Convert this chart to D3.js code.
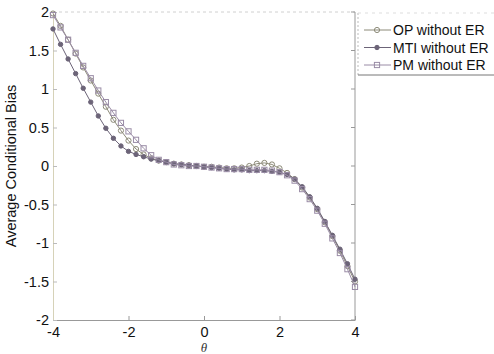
<!DOCTYPE html>
<html>
<head>
<meta charset="utf-8">
<script src="https://cdn.jsdelivr.net/npm/d3@7"></script>
<style>
  body { margin: 0; background: #fff; }
  svg { font-family: "Liberation Sans", Arial, sans-serif; }
</style>
</head>
<body>
<script>
// theta grid, step 0.2 from -4 to 4
var theta = [-4.0,-3.8,-3.6,-3.4,-3.2,-3.0,-2.8,-2.6,-2.4,-2.2,-2.0,-1.8,-1.6,-1.4,-1.2,-1.0,-0.8,-0.6,-0.4,-0.2,
             0.0,0.2,0.4,0.6,0.8,1.0,1.2,1.4,1.6,1.8,2.0,2.2,2.4,2.6,2.8,3.0,3.2,3.4,3.6,3.8,4.0];

var opVals = [1.98,1.82,1.64,1.46,1.28,1.11,0.94,0.77,0.60,0.46,0.33,0.22,0.15,0.10,0.07,0.05,0.03,0.02,0.01,0.00,
              -0.01,-0.01,-0.02,-0.03,-0.03,-0.02,0.00,0.03,0.04,0.02,-0.03,-0.09,-0.17,-0.28,-0.41,-0.56,-0.73,-0.91,-1.10,-1.30,-1.50];

var mtiVals = [1.78,1.58,1.39,1.20,1.01,0.83,0.65,0.49,0.36,0.26,0.19,0.15,0.12,0.09,0.07,0.05,0.03,0.02,0.01,0.00,
               -0.01,-0.02,-0.03,-0.04,-0.05,-0.05,-0.06,-0.06,-0.06,-0.07,-0.08,-0.11,-0.17,-0.27,-0.40,-0.55,-0.72,-0.90,-1.08,-1.27,-1.47];

var pmVals = [1.96,1.80,1.64,1.47,1.30,1.14,0.98,0.83,0.69,0.56,0.45,0.34,0.23,0.14,0.08,0.05,0.02,0.01,0.00,0.00,
              -0.01,-0.02,-0.03,-0.04,-0.04,-0.04,-0.05,-0.05,-0.05,-0.06,-0.08,-0.12,-0.19,-0.30,-0.43,-0.58,-0.75,-0.94,-1.13,-1.34,-1.57];

var seriesNames = ["OP without ER", "MTI without ER", "PM without ER"];
var xTicks = [-4, -2, 0, 2, 4];
var yTicks = [-2, -1.5, -1, -0.5, 0, 0.5, 1, 1.5, 2];

var series = [
  {name: seriesNames[0], vals: opVals, color: "#8c8a78", marker: "circle"},
  {name: seriesNames[1], vals: mtiVals, color: "#6c6478", marker: "dot"},
  {name: seriesNames[2], vals: pmVals, color: "#9a8ca6", marker: "square"}
];

var W = 494, H = 354;
var mLeft = 53, mRight = 355, mTop = 12, mBottom = 320;

var svg = d3.select("body").append("svg")
  .attr("width", W).attr("height", H);

var x = d3.scaleLinear().domain([-4, 4]).range([mLeft, mRight]);
var y = d3.scaleLinear().domain([-2, 2]).range([mBottom, mTop]);

// box
svg.append("line").attr("x1", mLeft).attr("x2", mRight).attr("y1", mTop).attr("y2", mTop)
  .attr("stroke", "#d0d0d0").attr("stroke-dasharray", "3,3");
svg.append("line").attr("x1", mRight).attr("x2", mRight).attr("y1", mTop).attr("y2", mBottom)
  .attr("stroke", "#999");

// axes
var xAxis = d3.axisBottom(x).tickValues(xTicks).tickSizeInner(-4).tickSizeOuter(0).tickPadding(7)
  .tickFormat(function(d){ return String(d); });
var gx = svg.append("g").attr("transform", "translate(0," + mBottom + ")").call(xAxis);

var yAxis = d3.axisLeft(y).tickValues(yTicks).tickSizeInner(-4).tickSizeOuter(0).tickPadding(4)
  .tickFormat(function(d){ return String(d); });
var gy = svg.append("g").attr("transform", "translate(" + mLeft + ",0)").call(yAxis);

gx.select(".domain").attr("stroke", "#999");
gy.select(".domain").attr("stroke", "#d6d2b8");
gx.selectAll(".tick line").attr("stroke", "#999");
gy.selectAll(".tick line").attr("stroke", "#bbb");
svg.selectAll(".tick text").attr("font-size", 14.5).attr("fill", "#111")
  .attr("font-family", "Liberation Sans, Arial, sans-serif");

// right-side ticks (mirror)
svg.append("g").selectAll("line").data(yTicks).join("line")
  .attr("x1", mRight - 4).attr("x2", mRight)
  .attr("y1", function(d){ return y(d); }).attr("y2", function(d){ return y(d); })
  .attr("stroke", "#999");

// labels
svg.append("text")
  .attr("transform", "translate(16," + ((mTop + mBottom) / 2) + ") rotate(-90)")
  .attr("text-anchor", "middle").attr("font-size", 14.5).attr("fill", "#111")
  .text("Average Conditional Bias");
svg.append("text")
  .attr("x", x(0)).attr("y", 352)
  .attr("text-anchor", "middle").attr("font-size", 13).attr("font-style", "italic")
  .attr("font-family", "Liberation Serif, serif").attr("fill", "#333")
  .text("θ");

var line = d3.line()
  .x(function(d){ return x(d[0]); })
  .y(function(d){ return y(d[1]); });

function drawMarker(g, kind, color) {
  if (kind === "circle") {
    g.append("circle").attr("r", 2.6).attr("fill", "none").attr("stroke", color).attr("stroke-width", 1);
  } else if (kind === "dot") {
    g.append("circle").attr("r", 2.2).attr("fill", color).attr("stroke", color);
  } else {
    g.append("rect").attr("x", -2.6).attr("y", -2.6).attr("width", 5.2).attr("height", 5.2)
      .attr("fill", "none").attr("stroke", color).attr("stroke-width", 1);
  }
}

series.forEach(function(s) {
  var pts = theta.map(function(t, i){ return [t, s.vals[i]]; });
  svg.append("path").datum(pts)
    .attr("d", line).attr("fill", "none").attr("stroke", s.color).attr("stroke-width", 1);
  svg.append("g").selectAll("g").data(pts).join("g")
    .attr("transform", function(d){ return "translate(" + x(d[0]) + "," + y(d[1]) + ")"; })
    .each(function(){ drawMarker(d3.select(this), s.marker, s.color); });
});

// legend
var lg = svg.append("g");
lg.append("line").attr("x1", 358).attr("x2", 358).attr("y1", 13).attr("y2", 75)
  .attr("stroke", "#bbb").attr("stroke-dasharray", "2,2");
lg.append("line").attr("x1", 358).attr("x2", 494).attr("y1", 75).attr("y2", 75)
  .attr("stroke", "#777");
lg.append("line").attr("x1", 358).attr("x2", 494).attr("y1", 13).attr("y2", 13)
  .attr("stroke", "#ddd").attr("stroke-dasharray", "3,4");
series.forEach(function(s, i) {
  var ly = 30 + i * 17.5;
  lg.append("line").attr("x1", 364).attr("x2", 391).attr("y1", ly).attr("y2", ly)
    .attr("stroke", s.color).attr("stroke-width", 1);
  var m = lg.append("g").attr("transform", "translate(377," + ly + ")");
  drawMarker(m, s.marker, s.color);
  lg.append("text").attr("x", 393).attr("y", ly + 5)
    .attr("font-size", 14).attr("fill", "#111").text(s.name);
});
</script>
</body>
</html>
